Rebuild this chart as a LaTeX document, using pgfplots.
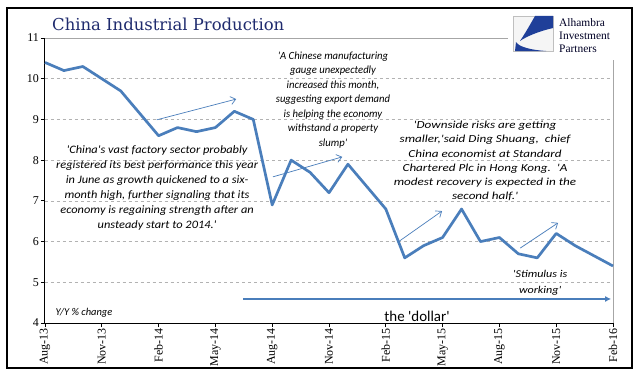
\documentclass[border=0pt]{standalone}
\usepackage{pgfplots}
\pgfplotsset{compat=1.18}
\usepackage{graphicx}
\usepackage{fontspec}
\setmainfont{Liberation Serif}
\newfontfamily\carl{Carlito}
\newfontfamily\titlefont{DejaVu Serif}
\usetikzlibrary{arrows.meta}
\definecolor{ipblue}{HTML}{4A7EBB}
\definecolor{titleblue}{HTML}{1F2B6E}
\definecolor{logoblue}{HTML}{1F3F99}
\newcommand\sq{\textquotesingle}
\pgfplotstableread{
x y
0 10.4
1 10.2
2 10.3
3 10.0
4 9.7
6 8.6
7 8.8
8 8.7
9 8.8
10 9.2
11 9.0
12 6.9
13 8.0
14 7.7
15 7.2
16 7.9
18 6.8
19 5.6
20 5.9
21 6.1
22 6.8
23 6.0
24 6.1
25 5.7
26 5.6
27 6.2
28 5.9
30 5.4
}\ipdata
\begin{document}
\begin{tikzpicture}[x=1bp,y=1bp]
\useasboundingbox (-45,-56) rectangle (596,323);
\fill[white] (-45,-56) rectangle (596,323);
\draw[black, line width=1.2bp] (-38,-45) rectangle (587,315);
\begin{axis}[
  at={(0,0)}, anchor=south west,
  width=568bp, height=285bp, scale only axis,
  xmin=0, xmax=30, ymin=4, ymax=11,
  xtick={0,3,...,30},
  xticklabels={Aug-13,Nov-13,Feb-14,May-14,Aug-14,Nov-14,Feb-15,May-15,Aug-15,Nov-15,Feb-16},
  ytick={4,5,...,11},
  xtick pos=bottom, ytick pos=left,
  tick align=outside, major tick length=4bp,
  tick style={black, line width=0.8bp},
  axis line style={draw=none},
  ymajorgrids, grid style={gray!60, dashed, line width=0.6bp},
  x tick label style={rotate=90, anchor=east, font=\fontsize{12}{12}\selectfont, inner sep=1bp},
  y tick label style={font=\fontsize{12}{12}\selectfont, inner sep=2bp},
  /pgf/number format/assume math mode=true,
  clip=false,
]
\draw[gray!70, line width=0.8bp] (rel axis cs:0,1) -- (rel axis cs:1,1) -- (rel axis cs:1,0);
\draw[black, line width=1bp] (rel axis cs:0,1) -- (rel axis cs:0,0) -- (rel axis cs:1,0);
\addplot[ipblue, line width=2.7bp, line join=round, mark=none] table[x=x,y=y] {\ipdata};
\addplot[ipblue, line width=0.7bp, -{Straight Barb[length=5bp,width=8bp]}] coordinates {(5.9,8.99) (10.1,9.5)};
\addplot[ipblue, line width=0.7bp, -{Straight Barb[length=5bp,width=8bp]}] coordinates {(12.04,7.59) (15.7,8.08)};
\addplot[ipblue, line width=0.7bp, -{Straight Barb[length=5bp,width=8bp]}] coordinates {(18.65,5.99) (20.97,6.75)};
\addplot[ipblue, line width=0.7bp, -{Straight Barb[length=5bp,width=8bp]}] coordinates {(25.1,5.84) (27.1,6.46)};
\addplot[ipblue, line width=2bp, -{Latex[length=6bp,width=6bp]}] coordinates {(10.46,4.59) (29.9,4.59)};
\node[inner sep=0, font=\carl\itshape\fontsize{11.4}{15}\selectfont] at (axis cs:5.92,7.32) {\scalebox{1.09}[1]{\begin{tabular}{@{}c@{}}\sq China\sq s vast factory sector probably\\registered its best performance this year\\in June as growth quickened to a six-\\month high, further signaling that its\\economy is regaining strength after an\\unsteady start to 2014.\sq\end{tabular}}};
\node[inner sep=0, font=\carl\itshape\fontsize{11}{14.5}\selectfont] at (axis cs:15.21,9.48) {\scalebox{0.97}[1]{\begin{tabular}{@{}c@{}}\sq A Chinese manufacturing\\gauge unexpectedly\\increased this month,\\suggesting export demand\\is helping the economy\\withstand a property\\slump\sq\end{tabular}}};
\node[inner sep=0, font=\carl\itshape\fontsize{10.8}{14.3}\selectfont] at (axis cs:23.24,7.97) {\scalebox{1.22}[1]{\begin{tabular}{@{}c@{}}\sq Downside risks are getting\\smaller,\sq said Ding Shuang,\ \ chief\\China economist at Standard\\Chartered Plc in Hong Kong.\ \ \sq A\\modest recovery is expected in the\\second half.\sq\end{tabular}}};
\node[inner sep=0, font=\carl\itshape\fontsize{10.5}{16}\selectfont] at (axis cs:26.15,5.01) {\scalebox{1.15}[1]{\begin{tabular}{@{}c@{}}\sq Stimulus is\\working\sq\end{tabular}}};
\node[font=\carl\fontsize{15}{15}\selectfont] at (axis cs:19.65,4.17) {the \sq dollar\sq};
\node[font=\carl\itshape\fontsize{10.5}{10.5}\selectfont] at (axis cs:2.06,4.25) {Y/Y \% change};
\end{axis}
\node[anchor=base west, inner sep=0, text=titleblue, font=\titlefont\fontsize{16.5}{16.5}\selectfont] at (7,293) {China Industrial Production};
\fill[white] (463,263) rectangle (585,314);
\fill[gray!8] (468,272) rectangle (508,307);
\draw[gray!50, line width=0.5bp] (468,272) rectangle (508,307);
\fill[logoblue] (490,307) -- (508,307) -- (508,295) .. controls (495,292) and (482,287) .. (475,282) .. controls (481,291) and (486,300) .. (490,307) -- cycle;
\fill[logoblue] (471,281) .. controls (474,276) and (486,273) .. (501,272) -- (470,272) -- cycle;
\begin{scope}[every node/.style={anchor=base west, inner sep=0, text=black!85!blue, font=\fontsize{11.5}{13}\selectfont}]
\node at (514,297) {Alhambra};
\node at (514,284) {Investment};
\node at (514,271) {Partners};
\end{scope}
\end{tikzpicture}
\end{document}
